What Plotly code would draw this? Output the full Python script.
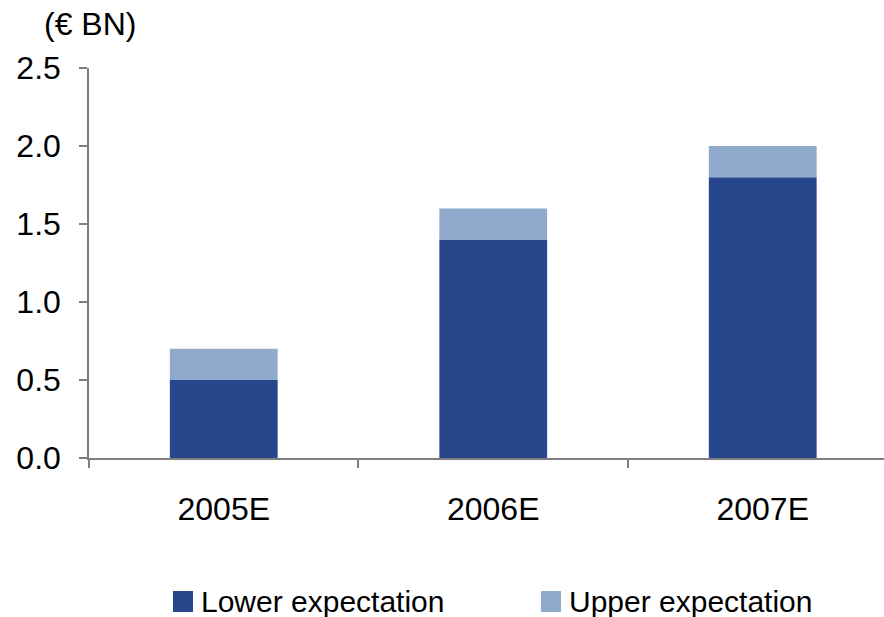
import plotly.graph_objects as go

# Annual estimates (EUR billions)
years = ["2005E", "2006E", "2007E"]
lower_expectation = [0.5, 1.4, 1.8]
upper_expectation = [0.7, 1.6, 2.0]
upper_increment = [u - l for u, l in zip(upper_expectation, lower_expectation)]
y_ticks = [0.0, 0.5, 1.0, 1.5, 2.0, 2.5]
y_tick_text = [f"{v:.1f}" for v in y_ticks]

DARK = "#27468C"
LIGHT = "#8FAACD"
FONT = "Liberation Sans, Arial, sans-serif"

W, H = 884, 617
ML, MR, MT, MB = 89, 0, 68, 159
PW, PH = W - ML - MR, H - MT - MB


def px_x(px):
    return (px - ML) / PW


def px_y(py):
    return (H - MB - py) / PH


fig = go.Figure()
fig.add_trace(go.Bar(x=years, y=lower_expectation, name="Lower expectation",
                     marker=dict(color=DARK, line=dict(width=0)), showlegend=False))
fig.add_trace(go.Bar(x=years, y=upper_increment, base=lower_expectation,
                     name="Upper expectation",
                     marker=dict(color=LIGHT, line=dict(width=0)), showlegend=False))

fig.update_layout(
    width=W, height=H,
    margin=dict(l=ML, r=MR, t=MT, b=MB),
    paper_bgcolor="white", plot_bgcolor="white",
    barmode="overlay", bargap=0.6,
    font=dict(family=FONT, color="black", size=32),
    xaxis=dict(
        type="category", range=[-0.5, 2.45],
        showline=True, linecolor="#7f7f7f", linewidth=1.5,
        ticks="outside", ticklen=8, tickcolor="#7f7f7f", tickwidth=1.5,
        tickson="boundaries", showgrid=False, zeroline=False,
        tickfont=dict(size=32), ticklabelstandoff=22,
    ),
    yaxis=dict(
        range=[0, 2.5], tickvals=y_ticks, ticktext=y_tick_text,
        showline=True, linecolor="#7f7f7f", linewidth=1.5,
        ticks="outside", ticklen=8, tickcolor="#7f7f7f", tickwidth=1.5,
        showgrid=False, zeroline=False,
        tickfont=dict(size=32), ticklabelstandoff=12,
    ),
)

# Unit label above the value axis
fig.add_annotation(text="(€ BN)", xref="paper", yref="paper",
                   x=px_x(42), y=px_y(24), xanchor="left", yanchor="middle",
                   showarrow=False, font=dict(size=32, family=FONT))

# Legend: colour swatch plus label for each series
legend_items = [("Lower expectation", DARK, 173), ("Upper expectation", LIGHT, 541)]
for label, color, left in legend_items:
    fig.add_shape(type="rect", xref="paper", yref="paper",
                  x0=px_x(left), x1=px_x(left + 20), y0=px_y(612), y1=px_y(591),
                  fillcolor=color, line=dict(width=0))
    fig.add_annotation(text=label, xref="paper", yref="paper",
                       x=px_x(left + 26), y=px_y(601), xanchor="left", yanchor="middle",
                       showarrow=False, font=dict(size=30, family=FONT))

fig.write_html("out.html")
